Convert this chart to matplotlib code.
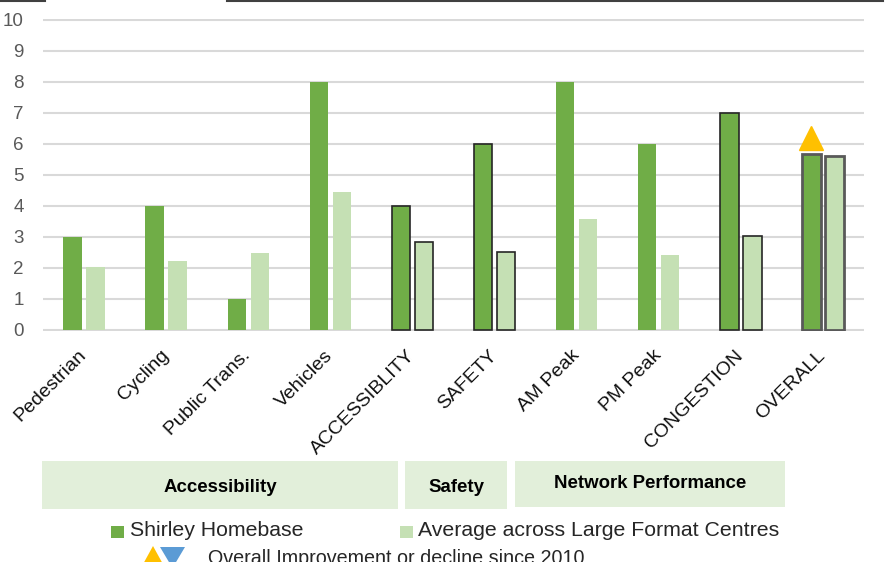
import matplotlib
matplotlib.use("Agg")
import matplotlib.pyplot as plt
from matplotlib.patches import Rectangle, Polygon
from matplotlib.lines import Line2D
import numpy as np

categories = ["Pedestrian", "Cycling", "Public Trans.", "Vehicles", "ACCESSIBLITY",
              "SAFETY", "AM Peak", "PM Peak", "CONGESTION", "OVERALL"]
shirley = [3, 4, 1, 8, 4, 6, 8, 6, 7, 5.68]
average = [2.03, 2.23, 2.48, 4.46, 2.82, 2.5, 3.57, 2.4, 3.03, 5.59]
yticks = list(range(0, 11))
groups = ["Accessibility", "Safety", "Network Performance"]
legend_labels = ["Shirley Homebase", "Average across Large Format Centres"]
note_text = "Overall Improvement or decline since 2010"

plt.rcParams["font.family"] = ["Liberation Sans", "DejaVu Sans"]

DARK = "#70AD47"
LIGHT = "#C5E0B4"
W, H = 891, 562
fig = plt.figure(figsize=(W / 100, H / 100), dpi=100)

def fx(px):
    return px / W

def fy(py):
    return 1 - py / H

ylo, yhi = -0.02, 10.02
ppu = 31.05
bot_px = 330 + 0.02 * ppu
top_px = 19.5 - 0.02 * ppu
ax = fig.add_axes([fx(43), fy(bot_px), fx(864) - fx(43), (bot_px - top_px) / H])
ax.set_zorder(2)
ax.patch.set_alpha(0)
ax.set_xlim(0, len(categories))
ax.set_ylim(ylo, yhi)
for s in ax.spines.values():
    s.set_visible(False)
ax.set_yticks(yticks)
ax.yaxis.grid(True, color="#D9D9D9", linewidth=1.5)
ax.set_axisbelow(True)
ax.tick_params(axis="y", length=0, pad=14, labelsize=13.5, labelcolor="#595959")

x = np.arange(len(categories)) + 0.5
bw, off = 0.225, 0.14
for i in range(len(categories)):
    if categories[i] == "OVERALL":
        ec, lw = "#595959", 2.0
    elif categories[i] in ("ACCESSIBLITY", "SAFETY", "CONGESTION"):
        ec, lw = "#262626", 1.2
    else:
        ec, lw = "none", 0
    ax.bar(x[i] - off, shirley[i], bw, color=DARK, edgecolor=ec, linewidth=lw, zorder=3)
    ax.bar(x[i] + off, average[i], bw, color=LIGHT, edgecolor=ec, linewidth=lw, zorder=3)

# improvement marker above OVERALL
ax.plot([x[-1] - off], [shirley[-1] + 0.51], marker="^", markersize=17.5,
        color="#FFC000", linestyle="none", zorder=4, clip_on=False)

ax.set_xticks(x)
ax.set_xticklabels(categories, rotation=45, ha="right", va="center",
                   rotation_mode="anchor", fontsize=14, color="#111111")
ax.tick_params(axis="x", length=0, pad=16)

# top border lines
fig.add_artist(Line2D([fx(0), fx(45)], [fy(0.8), fy(0.8)], color="#404040", lw=1.5))
fig.add_artist(Line2D([fx(227), fx(883)], [fy(0.8), fy(0.8)], color="#404040", lw=1.5))

# group boxes
boxes = [(42, 398, 461, 509, 487), (405, 507, 461, 509, 487), (515, 785, 461, 507, 484)]
for (x0, x1, y0, y1, ty), g in zip(boxes, groups):
    fig.add_artist(Rectangle((fx(x0), fy(y1)), fx(x1) - fx(x0), (y1 - y0) / H,
                             facecolor="#E2EFDA", edgecolor="none", zorder=0))
    fig.text(fx((x0 + x1) / 2), fy(ty), g, ha="center", va="center",
             fontsize=13.4, fontweight="bold", color="#000000")

# legend
fig.add_artist(Rectangle((fx(111), fy(538)), fx(13), 12 / H, facecolor=DARK, edgecolor="none"))
fig.text(fx(130), fy(531), legend_labels[0], ha="left", va="center", fontsize=15.3, color="#262626")
fig.add_artist(Rectangle((fx(400), fy(538)), fx(13), 12 / H, facecolor=LIGHT, edgecolor="none"))
fig.text(fx(418), fy(531), legend_labels[1], ha="left", va="center", fontsize=15.3, color="#262626")

fig.add_artist(Polygon([[fx(142), fy(566)], [fx(164), fy(566)], [fx(153), fy(546)]],
                       closed=True, facecolor="#FFC000", edgecolor="none"))
fig.add_artist(Polygon([[fx(160), fy(547)], [fx(185), fy(547)], [fx(172.5), fy(568)]],
                       closed=True, facecolor="#5B9BD5", edgecolor="none"))
fig.text(fx(208), fy(559), note_text, ha="left", va="center", fontsize=14.2, color="#262626")

fig.savefig("out.png", dpi=100)
